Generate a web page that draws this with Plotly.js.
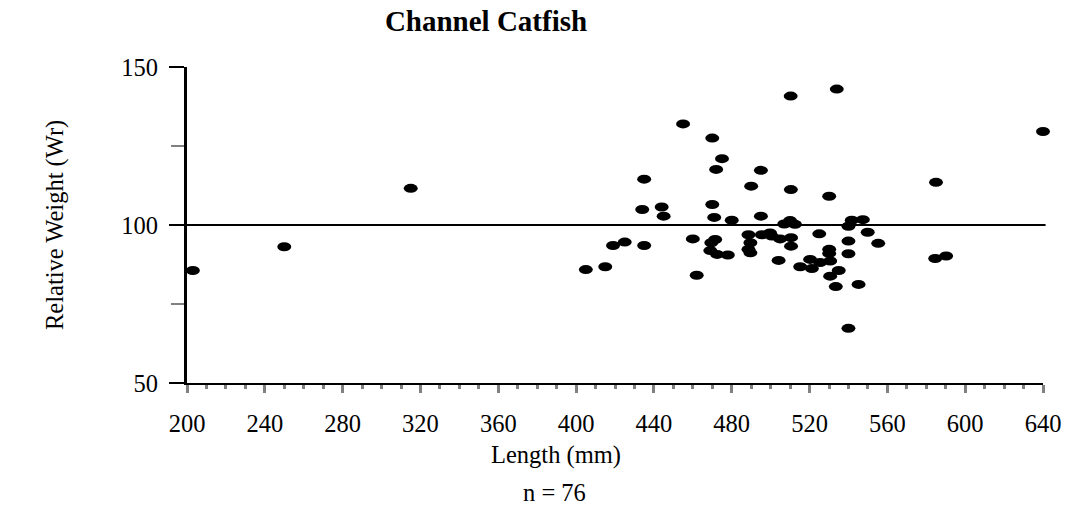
<!DOCTYPE html>
<html>
<head>
<meta charset="utf-8">
<script src="https://cdn.plot.ly/plotly-3.0.1.min.js"></script>
<style>
  html, body { margin: 0; padding: 0; background: #fff; }
  #chart { width: 1065px; height: 508px; }
</style>
</head>
<body>
<div id="chart"></div>
<script>
// Channel catfish: total length (mm) against relative weight (Wr)
const lengthMm = [
  203, 250, 315, 405, 415, 419, 425, 435, 434, 435,
  444, 445, 455, 460, 462, 470, 472, 475, 470, 471,
  471.5, 469.5, 469, 472.5, 478, 480, 488.6, 489.6, 488.6, 489.6,
  490, 495, 495, 495.5, 499.7, 500.6, 504.1, 504.9, 507, 510,
  512.5, 510.5, 510.5, 510.3, 510.4, 515.2, 520.3, 521.2, 525, 525.4,
  530.1, 530.1, 530.1, 530.6, 530.6, 534, 535, 533.5, 540, 540,
  540, 540, 541.7, 545.2, 547.4, 549.9, 555.3, 585, 584.6, 590.2,
  640
];
const relWeight = [
  85.6, 93.1, 111.6, 85.9, 86.8, 93.5, 94.6, 93.5, 104.9, 114.5,
  105.7, 102.8, 132.0, 95.6, 84.1, 127.5, 117.6, 121.0, 106.5, 102.4,
  95.4, 94.4, 91.9, 90.7, 90.5, 101.5, 96.9, 94.4, 92.3, 91.2,
  112.3, 117.3, 102.8, 96.9, 97.5, 96.5, 88.8, 95.6, 100.3, 101.4,
  100.2, 96.0, 93.3, 140.8, 111.2, 86.8, 89.1, 86.2, 97.2, 88.1,
  109.1, 92.3, 91.0, 88.6, 83.8, 143.0, 85.6, 80.5, 99.6, 94.9,
  90.9, 67.3, 101.5, 81.2, 101.7, 97.7, 94.2, 113.5, 89.4, 90.2,
  129.6
];
const sampleSize = 76;
const standardWr = 100;

const serif = '"Liberation Serif", "Times New Roman", serif';
const tickGray = '#808080';
const textSize = 24.5;

const trace = {
  type: 'scatter',
  mode: 'markers',
  x: lengthMm,
  y: relWeight,
  cliponaxis: false,
  marker: { symbol: 'circle', size: 9, color: '#000', line: { width: 0 } },
  hoverinfo: 'x+y'
};

const layout = {
  width: 1065,
  height: 508,
  margin: { l: 187, r: 22, t: 67, b: 125 },
  paper_bgcolor: '#fff',
  plot_bgcolor: '#fff',
  showlegend: false,
  font: { family: serif, size: textSize, color: '#000' },
  title: {
    text: '<b>Channel Catfish</b>',
    font: { family: serif, size: 29, color: '#000' },
    xref: 'container', x: 486 / 1065, xanchor: 'center',
    yref: 'container', y: 1 - 21 / 508, yanchor: 'middle'
  },
  xaxis: {
    range: [200, 640],
    tick0: 200, dtick: 40,
    ticks: 'outside', ticklen: 8, tickwidth: 3, tickcolor: tickGray,
    minor: { dtick: 10, tick0: 200, ticks: 'outside', ticklen: 4, tickwidth: 3, tickcolor: tickGray },
    showline: true, linecolor: '#000', linewidth: 2,
    showgrid: false, zeroline: false,
    ticklabelstandoff: 10,
    tickfont: { family: serif, size: textSize, color: '#000' }
  },
  yaxis: {
    range: [50, 150],
    tick0: 50, dtick: 50,
    ticks: 'outside', ticklen: 15, tickwidth: 2, tickcolor: '#000',
    minor: { dtick: 25, tick0: 50, ticks: 'outside', ticklen: 13, tickwidth: 2, tickcolor: tickGray },
    showline: true, linecolor: '#000', linewidth: 3,
    showgrid: false, zeroline: false,
    ticklabelstandoff: 6,
    tickfont: { family: serif, size: textSize, color: '#000' }
  },
  shapes: [{
    type: 'line', layer: 'below',
    xref: 'paper', x0: -15 / 856, x1: 1.003,
    yref: 'y', y0: standardWr, y1: standardWr,
    line: { color: '#000', width: 2 }
  }],
  annotations: [
    {
      text: 'Relative Weight (Wr)', textangle: -90, showarrow: false,
      xref: 'paper', x: (55 - 187) / 856, xanchor: 'center',
      yref: 'paper', y: 0.5, yanchor: 'middle',
      font: { family: serif, size: textSize, color: '#000' }
    },
    {
      text: 'Length (mm)', showarrow: false,
      xref: 'paper', x: (556 - 187) / 856, xanchor: 'center',
      yref: 'paper', y: -(455 - 383) / 316, yanchor: 'middle',
      font: { family: serif, size: textSize, color: '#000' }
    },
    {
      text: 'n = ' + sampleSize, showarrow: false,
      xref: 'paper', x: (554 - 187) / 856, xanchor: 'center',
      yref: 'paper', y: -(492 - 383) / 316, yanchor: 'middle',
      font: { family: serif, size: textSize, color: '#000' }
    }
  ]
};

// Stretch the round markers horizontally into flat ovals
function ovalMarkers() {
  document.querySelectorAll('#chart .scatterlayer .point').forEach(p => {
    const t = p.getAttribute('transform') || '';
    if (t.indexOf('scale') === -1) p.setAttribute('transform', t + ' scale(1.55,1)');
  });
}

Plotly.newPlot('chart', [trace], layout, { displayModeBar: false, staticPlot: true })
  .then(gd => { ovalMarkers(); gd.on('plotly_afterplot', ovalMarkers); });
</script>
</body>
</html>
